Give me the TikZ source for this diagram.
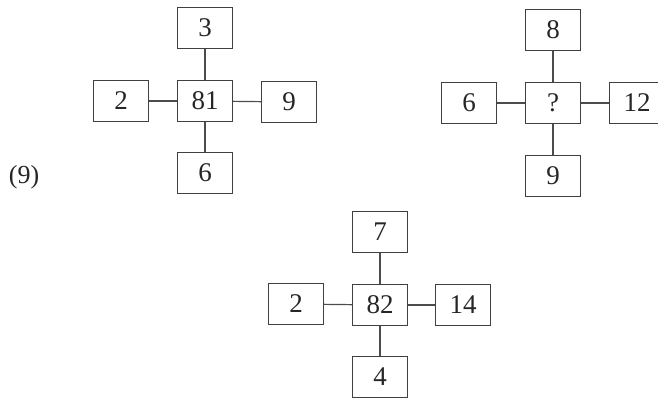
\documentclass[tikz,border=0pt]{standalone}
\usepackage{fontspec}
\setmainfont{Liberation Serif}
\begin{document}
\begin{tikzpicture}[x=1pt,y=-1pt,
  numbox/.style={draw=black!75,line width=1.4pt,minimum width=55pt,minimum height=41pt,inner sep=0pt,
    text=black!85,font=\fontsize{27}{30}\selectfont},
  link/.style={draw=black!70,line width=1.2pt}]
\useasboundingbox (0,0) rectangle (658,402);
% label
\node[text=black!85,font=\fontsize{26}{30}\selectfont] (lab) at (24,177) {(9)};
% diagram 1
\node[numbox] (c1) at (205,101) {81};
\node[numbox] (t1) at (205,28) {3};
\node[numbox] (l1) at (121,101) {2};
\node[numbox] (r1) at (289,102) {9};
\node[numbox] (b1) at (205,173) {6};
\draw[link] (c1) -- (t1);
\draw[link] (c1) -- (l1);
\draw[link] (c1) -- (r1);
\draw[link] (c1) -- (b1);
% diagram 2
\node[numbox] (c2) at (553,103) {?};
\node[numbox] (t2) at (553,30) {8};
\node[numbox] (l2) at (469,103) {6};
\node[numbox] (r2) at (637,103) {12};
\node[numbox] (b2) at (553,176) {9};
\draw[link] (c2) -- (t2);
\draw[link] (c2) -- (l2);
\draw[link] (c2) -- (r2);
\draw[link] (c2) -- (b2);
% diagram 3
\node[numbox] (c3) at (380,305) {82};
\node[numbox] (t3) at (380,232) {7};
\node[numbox] (l3) at (296,304) {2};
\node[numbox] (r3) at (463,305) {14};
\node[numbox] (b3) at (380,377) {4};
\draw[link] (c3) -- (t3);
\draw[link] (c3) -- (l3);
\draw[link] (c3) -- (r3);
\draw[link] (c3) -- (b3);
\end{tikzpicture}
\end{document}
